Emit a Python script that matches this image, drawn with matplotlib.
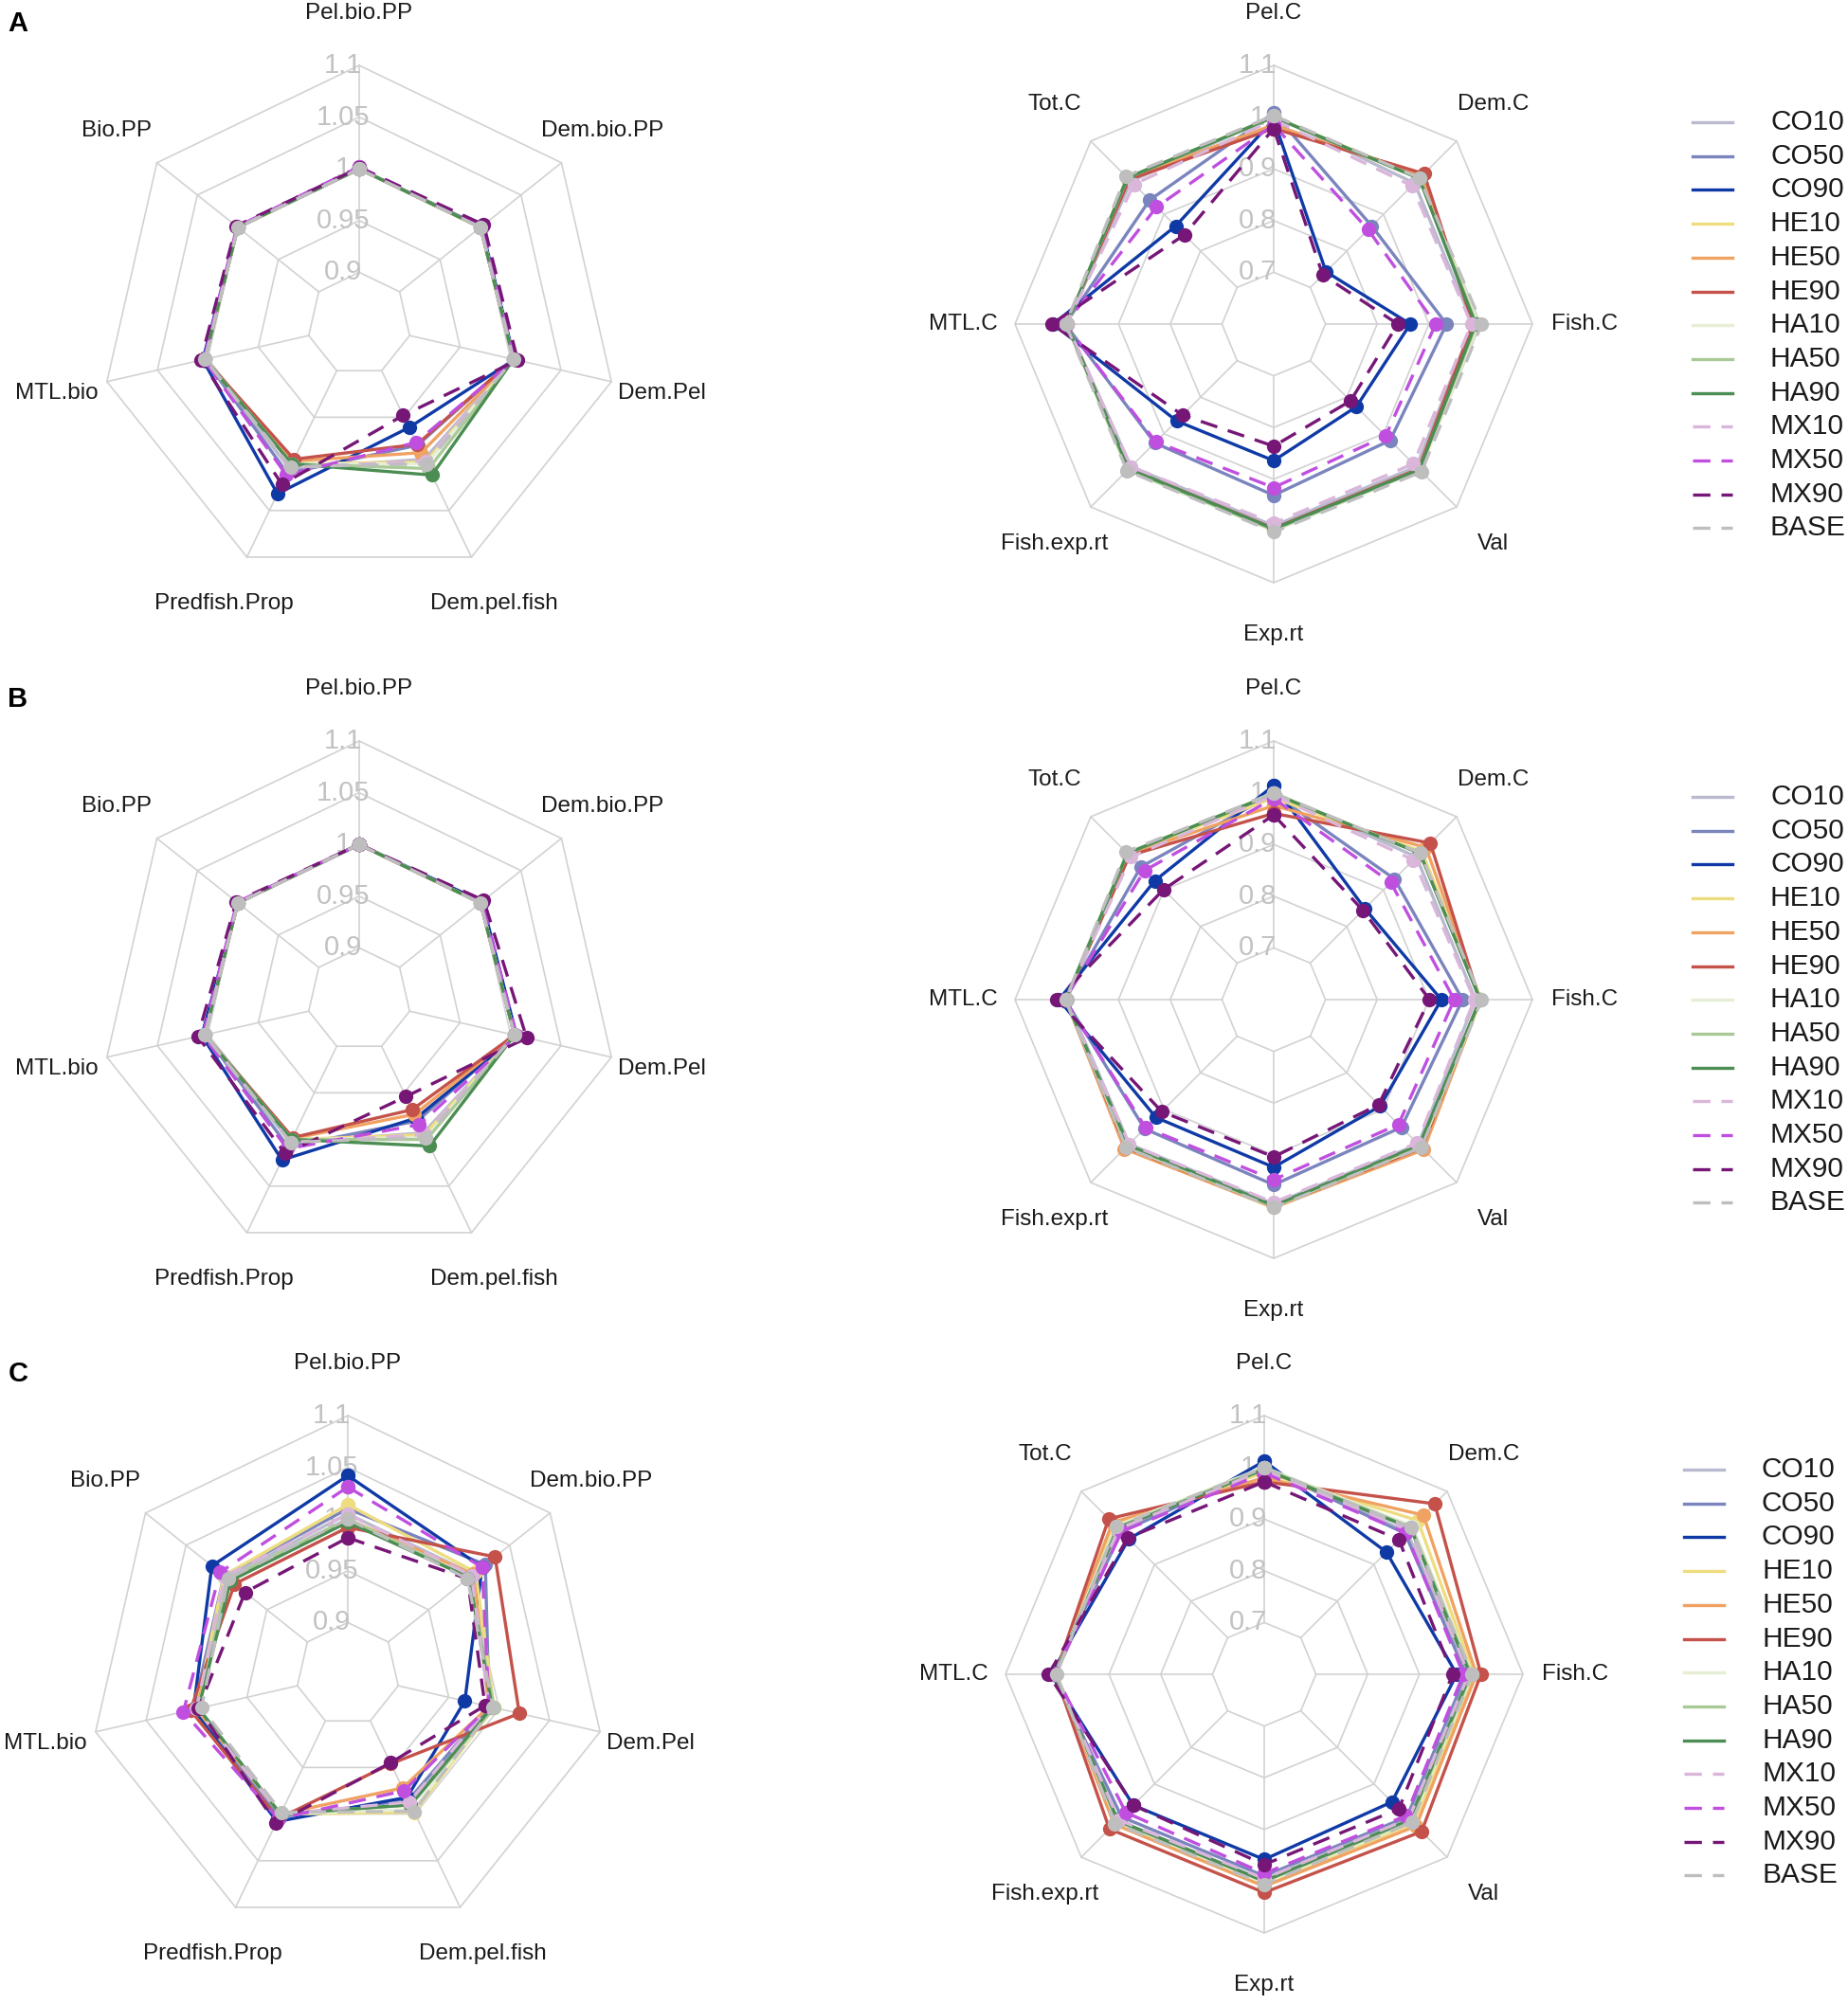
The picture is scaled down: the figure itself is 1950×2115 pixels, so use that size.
import numpy as np
import matplotlib
matplotlib.use("Agg")
import matplotlib.pyplot as plt

plt.rcParams['font.family'] = ['Liberation Sans', 'DejaVu Sans']

# ---- data ----
SCENARIOS = ["CO10", "CO50", "CO90", "HE10", "HE50", "HE90",
             "HA10", "HA50", "HA90", "MX10", "MX50", "MX90", "BASE"]

LEFT_AXES = ["Pel.bio.PP", "Dem.bio.PP", "Dem.Pel", "Dem.pel.fish",
             "Predfish.Prop", "MTL.bio", "Bio.PP"]
RIGHT_AXES = ["Pel.C", "Dem.C", "Fish.C", "Val", "Exp.rt",
              "Fish.exp.rt", "MTL.C", "Tot.C"]

LEFT_RINGS = [0.9, 0.95, 1.0, 1.05, 1.1]
LEFT_RING_LABELS = ["0.9", "0.95", "1", "1.05", "1.1"]
RIGHT_RINGS = [0.7, 0.8, 0.9, 1.0, 1.1]
RIGHT_RING_LABELS = ["0.7", "0.8", "0.9", "1", "1.1"]
LEFT_RANGE = (0.85, 1.1)
RIGHT_RANGE = (0.6, 1.1)

# one row per scenario, one column per axis (same order as above)
A_LEFT = [
    [1.000, 1.000, 1.003, 0.995, 1.005, 1.003, 1.000],
    [1.000, 1.000, 1.003, 0.980, 1.010, 1.003, 1.000],
    [1.000, 1.001, 1.004, 0.961, 1.032, 1.005, 1.000],
    [1.000, 1.000, 1.003, 0.998, 1.000, 1.003, 1.000],
    [1.000, 1.000, 1.003, 0.988, 0.997, 1.003, 1.000],
    [1.000, 1.000, 1.003, 0.979, 0.995, 1.003, 1.000],
    [1.000, 1.000, 1.003, 1.000, 1.000, 1.003, 1.000],
    [1.000, 1.000, 1.003, 1.005, 1.000, 1.003, 1.000],
    [1.000, 1.000, 1.003, 1.012, 1.000, 1.003, 1.000],
    [1.000, 1.000, 1.003, 0.997, 1.004, 1.003, 1.000],
    [1.002, 1.002, 1.004, 0.977, 1.012, 1.004, 1.001],
    [1.001, 1.004, 1.007, 0.948, 1.022, 1.007, 1.002],
    [1.000, 1.000, 1.003, 1.000, 1.003, 1.003, 1.000],
]
A_RIGHT = [
    [1.003, 0.985, 0.985, 0.990, 0.990, 0.990, 1.000, 0.990],
    [1.008, 0.868, 0.934, 0.918, 0.931, 0.925, 1.003, 0.939],
    [0.995, 0.743, 0.864, 0.826, 0.864, 0.865, 1.026, 0.868],
    [1.000, 1.000, 0.995, 1.000, 0.997, 0.998, 1.000, 1.000],
    [0.985, 1.005, 0.990, 0.998, 0.997, 0.998, 1.000, 0.998],
    [0.978, 1.011, 0.985, 0.996, 0.995, 0.996, 1.000, 0.995],
    [1.000, 0.998, 0.995, 1.000, 1.000, 1.000, 1.000, 1.000],
    [1.000, 0.998, 0.992, 0.998, 0.998, 0.998, 1.000, 1.000],
    [1.000, 0.998, 0.990, 0.998, 0.996, 0.996, 1.000, 1.000],
    [0.995, 0.978, 0.982, 0.982, 0.985, 0.990, 1.000, 0.982],
    [0.985, 0.858, 0.913, 0.906, 0.916, 0.922, 1.003, 0.920],
    [0.978, 0.734, 0.840, 0.810, 0.836, 0.849, 1.029, 0.844],
    [1.003, 0.999, 1.002, 1.004, 1.002, 1.001, 1.002, 1.004],
]
B_LEFT = [
    [1.000, 1.000, 1.004, 0.993, 1.003, 1.003, 1.000],
    [1.000, 1.000, 1.004, 0.980, 1.008, 1.003, 1.000],
    [1.000, 1.002, 1.006, 0.977, 1.022, 1.006, 1.000],
    [1.000, 1.000, 1.004, 0.995, 1.000, 1.003, 1.000],
    [1.000, 1.000, 1.004, 0.973, 0.999, 1.003, 1.000],
    [1.000, 1.000, 1.004, 0.968, 0.998, 1.003, 1.000],
    [1.000, 1.000, 1.004, 0.998, 1.000, 1.003, 1.000],
    [1.000, 1.000, 1.004, 1.000, 1.000, 1.003, 1.000],
    [1.000, 1.000, 1.004, 1.007, 1.000, 1.003, 1.000],
    [1.000, 1.000, 1.004, 0.995, 1.003, 1.003, 1.000],
    [1.000, 1.002, 1.006, 0.984, 1.010, 1.005, 1.001],
    [1.000, 1.004, 1.016, 0.954, 1.015, 1.010, 1.002],
    [1.000, 1.000, 1.004, 0.998, 1.003, 1.003, 1.000],
]
B_RIGHT = [
    [1.000, 0.990, 0.990, 0.995, 0.995, 0.995, 1.000, 0.995],
    [0.998, 0.930, 0.965, 0.949, 0.958, 0.953, 1.003, 0.963],
    [1.014, 0.849, 0.924, 0.891, 0.924, 0.922, 1.015, 0.925],
    [0.990, 1.005, 1.000, 1.005, 1.000, 1.004, 1.002, 1.000],
    [0.975, 1.016, 1.000, 1.010, 1.002, 1.008, 1.002, 0.998],
    [0.960, 1.028, 0.998, 1.005, 1.000, 1.004, 1.002, 0.994],
    [1.000, 1.000, 1.000, 1.002, 1.000, 1.002, 1.002, 1.000],
    [0.998, 1.000, 0.999, 1.000, 1.000, 1.000, 1.002, 1.000],
    [0.998, 1.000, 0.999, 0.998, 0.998, 0.998, 1.002, 1.000],
    [0.995, 0.982, 0.988, 0.992, 0.992, 0.995, 1.002, 0.990],
    [0.989, 0.920, 0.949, 0.941, 0.948, 0.950, 1.004, 0.953],
    [0.957, 0.844, 0.901, 0.887, 0.904, 0.906, 1.019, 0.901],
    [0.999, 1.001, 1.002, 1.004, 1.002, 1.004, 1.002, 1.004],
]
C_LEFT = [
    [1.005, 1.005, 0.990, 0.990, 1.000, 0.998, 1.000],
    [1.010, 1.020, 0.990, 0.985, 1.003, 1.003, 1.003],
    [1.042, 1.016, 0.966, 0.982, 1.008, 1.003, 1.018],
    [1.014, 1.008, 0.995, 0.998, 1.000, 1.000, 1.003],
    [1.000, 1.005, 0.990, 0.972, 1.000, 1.000, 0.995],
    [0.992, 1.032, 1.020, 0.946, 1.005, 1.006, 0.990],
    [1.000, 1.000, 0.995, 0.995, 1.000, 0.998, 0.998],
    [1.000, 1.000, 0.995, 0.990, 1.000, 0.998, 0.998],
    [0.997, 1.000, 0.993, 0.990, 1.000, 0.998, 0.995],
    [1.005, 1.003, 0.990, 0.987, 1.000, 1.000, 1.002],
    [1.031, 1.016, 0.990, 0.975, 1.005, 1.013, 1.008],
    [0.982, 0.998, 0.986, 0.945, 1.010, 0.998, 0.977],
    [1.000, 0.998, 0.994, 0.997, 0.998, 0.995, 0.998],
]
C_RIGHT = [
    [1.000, 0.990, 0.995, 0.995, 0.998, 1.000, 1.005, 0.995],
    [1.000, 0.985, 0.990, 0.990, 0.990, 0.990, 1.007, 0.990],
    [1.012, 0.934, 0.972, 0.949, 0.958, 0.958, 1.012, 0.970],
    [0.990, 1.020, 1.005, 1.008, 1.005, 1.005, 1.004, 1.010],
    [0.980, 1.035, 1.010, 1.015, 1.010, 1.010, 1.004, 1.015],
    [0.972, 1.066, 1.019, 1.030, 1.022, 1.023, 1.004, 1.025],
    [1.000, 1.005, 1.002, 1.003, 1.003, 1.003, 1.004, 1.005],
    [0.998, 1.002, 1.000, 1.000, 1.000, 1.002, 1.004, 1.002],
    [0.996, 1.000, 0.998, 0.998, 1.000, 1.000, 1.004, 1.000],
    [0.995, 0.995, 0.995, 0.995, 0.995, 0.998, 1.004, 0.998],
    [0.989, 0.987, 0.985, 0.987, 0.985, 0.978, 1.004, 0.990],
    [0.972, 0.968, 0.964, 0.968, 0.968, 0.958, 1.017, 0.973],
    [0.999, 1.001, 1.002, 1.004, 1.006, 1.008, 1.002, 1.004],
]

# ---- styles ----
COLORS = {
    "CO10": "#b9b9cf", "CO50": "#7a84bd", "CO90": "#0f3aa6",
    "HE10": "#eedd80", "HE50": "#f0a262", "HE90": "#c4524a",
    "HA10": "#e6efd5", "HA50": "#a9ca97", "HA90": "#4b8d52",
    "MX10": "#d9b6da", "MX50": "#c04fe0", "MX90": "#761677",
    "BASE": "#bebebe",
}
DASHED = {"MX10", "MX50", "MX90", "BASE"}
DASH = (0, (5.5, 3.5))
GRID = "#d2d2d2"
RING_TXT = "#c2c2c2"
LW = 2.4
MS = 11

W, H = 1950, 2115
R_PX = 273
fig = plt.figure(figsize=(W / 100, H / 100), dpi=100)


def place(cx, cy):
    half = 1.5 * R_PX
    return fig.add_axes([(cx - half) / W, 1 - (cy + half) / H,
                         2 * half / W, 2 * half / H])


def closed(a):
    return np.append(a, a[0])


def radar(ax, names, rings, ring_labels, vrange, values):
    vmin, vmax = vrange
    n = len(names)
    theta = 2 * np.pi * np.arange(n) / n
    sx, cy = np.sin(theta), np.cos(theta)

    def scale(v):
        return (np.asarray(v, dtype=float) - vmin) / (vmax - vmin)

    for rv in rings:
        r = scale(rv)
        ax.plot(closed(r * sx), closed(r * cy), color=GRID, lw=1.2, zorder=1)
    r0, r1 = scale(rings[0]), scale(rings[-1])
    for k in range(n):
        ax.plot([r0 * sx[k], r1 * sx[k]], [r0 * cy[k], r1 * cy[k]],
                color=GRID, lw=1.2, zorder=1)
    for rv, lab in zip(rings, ring_labels):
        ax.text(-0.062, scale(rv), lab, ha="center", va="center",
                fontsize=21, color=RING_TXT, zorder=2)

    for i, s in enumerate(SCENARIOS):
        r = scale(values[i])
        ls = DASH if s in DASHED else "-"
        ax.plot(closed(r * sx), closed(r * cy), color=COLORS[s], lw=LW, ls=ls,
                marker="o", ms=MS, markeredgewidth=0, zorder=3 + i)

    for k, name in enumerate(names):
        ax.text(1.2 * sx[k], 1.2 * cy[k], name, ha="center", va="center",
                fontsize=17.5, color="#1a1a1a")
    ax.set_xlim(-1.5, 1.5)
    ax.set_ylim(-1.5, 1.5)
    ax.axis("off")


# overlay in pixel coords for panel letters and legends
lay = fig.add_axes([0, 0, 1, 1])
lay.set_xlim(0, W)
lay.set_ylim(H, 0)
lay.axis("off")

rows = [
    ("A", 342, 379, 1344, A_LEFT, A_RIGHT, 1782, 129),
    ("B", 1055, 379, 1344, B_LEFT, B_RIGHT, 1782, 841),
    ("C", 1767, 367, 1334, C_LEFT, C_RIGHT, 1773, 1551),
]

for letter, cyy, lx, rx, left_vals, right_vals, legx, legy in rows:
    radar(place(lx, cyy), LEFT_AXES, LEFT_RINGS, LEFT_RING_LABELS,
          LEFT_RANGE, left_vals)
    radar(place(rx, cyy), RIGHT_AXES, RIGHT_RINGS, RIGHT_RING_LABELS,
          RIGHT_RANGE, right_vals)
    lay.text(19, cyy - 317, letter, ha="center", va="center",
             fontsize=21, fontweight="bold", color="black")
    for i, s in enumerate(SCENARIOS):
        y = legy + i * 35.7
        ls = DASH if s in DASHED else "-"
        lay.plot([legx + 4, legx + 46], [y, y], color=COLORS[s], lw=LW, ls=ls)
        lay.text(legx + 86, y, s, ha="left", va="center", fontsize=21.5,
                 color="#1a1a1a")

fig.savefig("out.png", dpi=100)
